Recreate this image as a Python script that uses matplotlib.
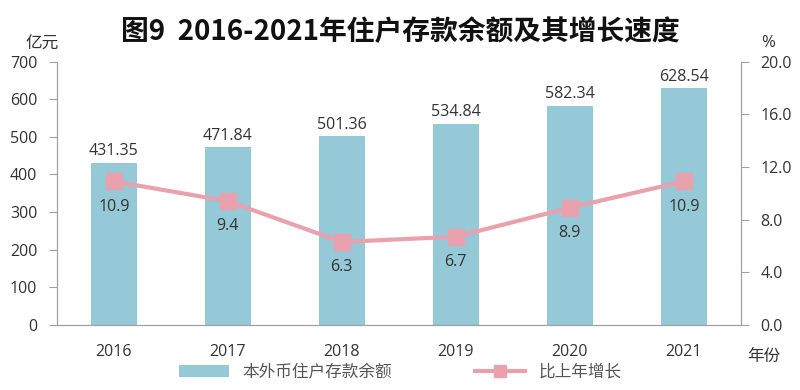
import matplotlib
matplotlib.use("Agg")
import matplotlib.pyplot as plt
import numpy as np

plt.rcParams['font.family'] = ['Open Sans', 'Noto Sans CJK SC', 'DejaVu Sans']

years = ['2016', '2017', '2018', '2019', '2020', '2021']
deposits = [431.35, 471.84, 501.36, 534.84, 582.34, 628.54]
growth = [10.9, 9.4, 6.3, 6.7, 8.9, 10.9]

bar_color = '#95C9D7'
line_color = '#E8A1AD'
text_color = '#333333'
axis_color = '#A0A0A0'

fig = plt.figure(figsize=(8, 3.9), dpi=100)
ax = fig.add_axes([0.071, 0.167, 0.855, 0.675])
ax2 = ax.twinx()

x = np.arange(len(years))
ax.bar(x, deposits, width=0.4, color=bar_color, zorder=1, label='本外币住户存款余额')
for xi, v in zip(x, deposits):
    ax.text(xi, v + 10, f'{v:.2f}', ha='center', va='bottom', fontsize=11.5, color=text_color)

ax2.plot(x, growth, color=line_color, lw=3, marker='s', markersize=11,
         label='比上年增长', zorder=3)
for xi, g in zip(x, growth):
    ax2.text(xi, g - 1.3, f'{g:.1f}', ha='center', va='top', fontsize=11.5, color=text_color)

ax.set_xlim(-0.5, 5.5)
ax.set_ylim(0, 700)
ax.set_yticks(range(0, 701, 100))
ax2.set_ylim(0, 20)
ax2.set_yticks(np.arange(0, 20.1, 4))
ax2.set_yticklabels([f'{t:.1f}' for t in np.arange(0, 20.1, 4)])

ax.set_xticks(x)
ax.set_xticklabels(years)
ax.tick_params(axis='x', length=0, pad=14, labelsize=11.5, colors=text_color)
ax.tick_params(axis='y', direction='out', length=6, color=axis_color, labelsize=11.5,
               labelcolor=text_color, pad=8)
ax2.tick_params(axis='y', direction='out', length=6, color=axis_color, labelsize=11.5,
                labelcolor=text_color, pad=8)

for a in (ax, ax2):
    a.spines['top'].set_visible(False)
    for s in ('left', 'right', 'bottom'):
        a.spines[s].set_color(axis_color)
ax.set_zorder(ax2.get_zorder() - 1)
ax2.patch.set_visible(False)
ax.patch.set_visible(False)

fig.text(0.053, 0.865, '亿元', fontsize=12, color=text_color, ha='center', va='bottom',
         family=['Noto Sans CJK SC'])
fig.text(0.96, 0.87, '%', fontsize=12, color=text_color, ha='center', va='bottom')
fig.text(0.955, 0.085, '年份', fontsize=12, color=text_color, ha='center', va='center',
         family=['Noto Sans CJK SC'])

fig.suptitle('图9  2016-2021年住户存款余额及其增长速度', fontsize=20, fontweight='bold',
             y=0.955, color='#111111', family=['Noto Sans CJK SC'])

h1, l1 = ax.get_legend_handles_labels()
h2, l2 = ax2.get_legend_handles_labels()
leg = fig.legend(h1 + h2, l1 + l2, loc='lower center', bbox_to_anchor=(0.5, -0.015),
                 ncol=2, frameon=False, columnspacing=5, handlelength=3, markerscale=0.75,
                 prop={'family': 'Noto Sans CJK SC', 'size': 12})
for t in leg.get_texts():
    t.set_color('#555555')

fig.savefig('out.png', dpi=100)
